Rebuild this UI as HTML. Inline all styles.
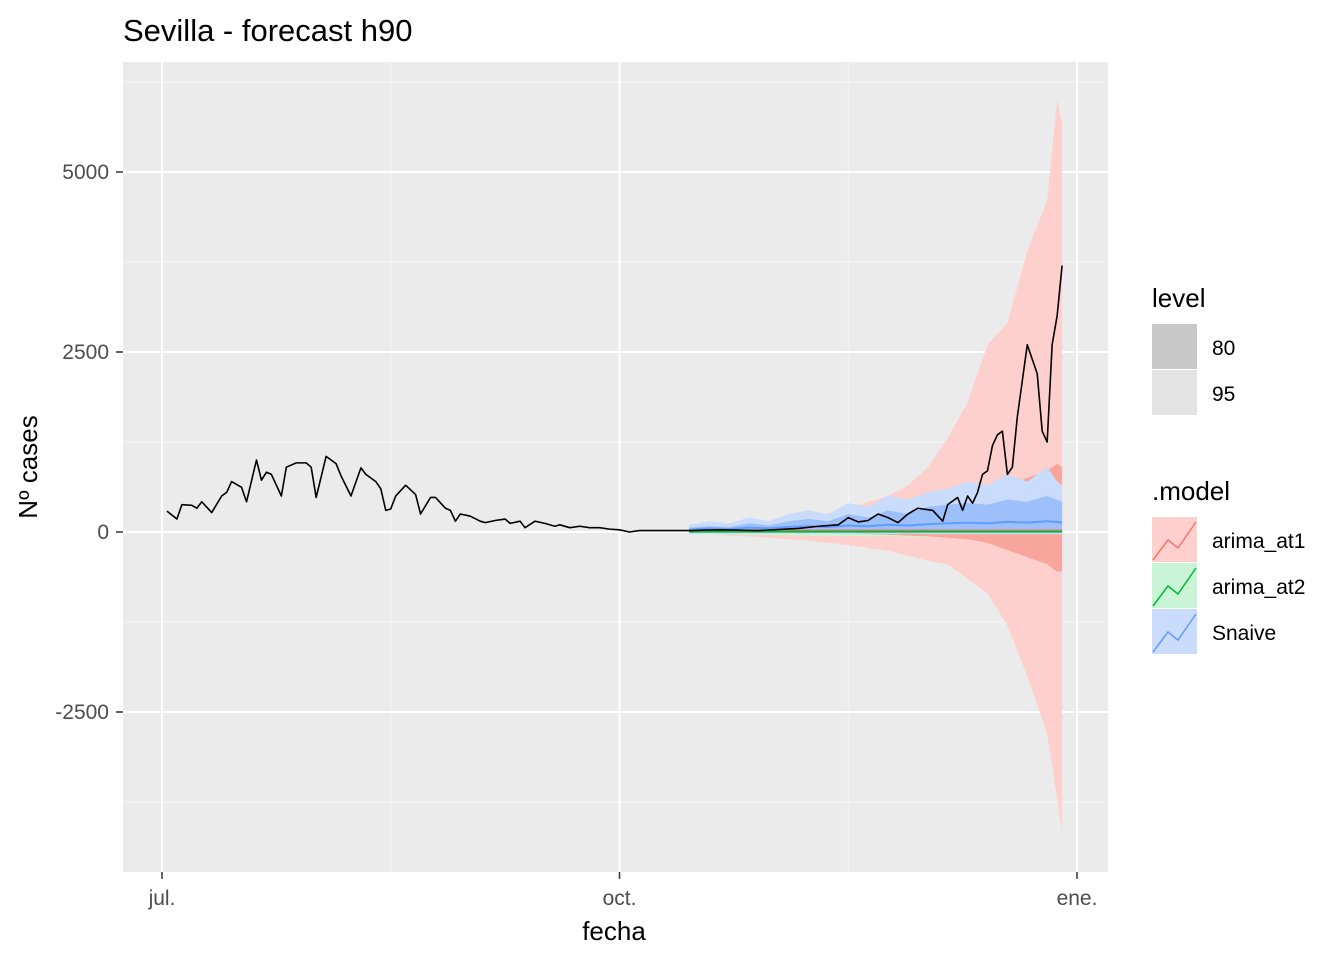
<!DOCTYPE html>
<html><head><meta charset="utf-8"><style>
body{margin:0;background:#fff;font-family:"Liberation Sans",Arial,sans-serif}
svg text{font-family:"Liberation Sans",Arial,sans-serif}
</style></head><body>
<svg id="chart" width="1344" height="960" xmlns="http://www.w3.org/2000/svg">
<text x="123" y="41" font-size="31" fill="#000">Sevilla - forecast h90</text>
<rect x="123" y="62" width="985" height="810" fill="#EBEBEB"/>
<g id="grid"></g>
<g id="marks"></g>
<g id="axes"></g>
<text x="614" y="940" font-size="26" text-anchor="middle">fecha</text>
<text transform="translate(37,467) rotate(-90)" font-size="26" text-anchor="middle">Nº cases</text>
<g>
<text x="1152" y="307" font-size="26">level</text>
<rect x="1152" y="324" width="45" height="45" fill="#C8C8C8"/>
<text x="1212" y="355" font-size="21">80</text>
<rect x="1152" y="370" width="45" height="45" fill="#E3E3E3"/>
<text x="1212" y="401" font-size="21">95</text>
</g>
<g>
<text x="1152" y="500" font-size="26">.model</text>
<rect x="1152" y="517" width="45" height="45" fill="#FDD0CD"/>
<polyline points="1153,560 1168,540 1178,548 1196,522" fill="none" stroke="#F8766D" stroke-width="1.5"/>
<text x="1212" y="548" font-size="21">arima_at1</text>
<rect x="1152" y="563" width="45" height="45" fill="#C9F5D6"/>
<polyline points="1153,606 1168,586 1178,594 1196,568" fill="none" stroke="#00BA38" stroke-width="1.5"/>
<text x="1212" y="594" font-size="21">arima_at2</text>
<rect x="1152" y="609" width="45" height="45" fill="#CADCFB"/>
<polyline points="1153,652 1168,632 1178,640 1196,614" fill="none" stroke="#619CFF" stroke-width="1.5"/>
<text x="1212" y="640" font-size="21">Snaive</text>
</g>
</svg>
<script>
const actDays=[1,3,4,6,7,8,10,12,13,14,16,17,19,20,21,22,24,25,27,29,30,31,33,35,36,38,40,41,43,44,45,46,47,49,51,52,54,55,57,58,59,60,62,64,65,67,69,70,72,73,75,77,79,80,82,84,86,88,90,92,94,96,100,106,112,120,128,132,136,138,140,142,144,146,148,150,152,155,157,158,160,161,162,163,164,165,166,167,168,169,170,171,172,174,175,176,177,178,179,180,181];
const actVals=[290,180,380,370,330,420,270,500,550,700,620,420,1000,720,830,800,500,900,960,960,900,480,1050,950,780,500,890,800,700,600,300,320,500,650,520,250,480,480,330,300,150,250,220,150,130,160,180,120,150,60,150,120,80,100,60,80,60,60,40,30,0,20,20,20,30,20,50,80,100,200,140,160,250,200,130,250,330,300,150,380,480,300,500,400,550,800,850,1200,1350,1400,800,900,1600,2600,2400,2200,1400,1250,2600,3000,3700];
const fcDays=[106,110,114,118,122,126,130,134,138,142,146,150,154,158,162,166,170,174,178,180,181];
const red95Hi=[60,80,100,130,150,180,220,260,320,420,500,650,900,1300,1800,2600,2900,3900,4600,6000,5700];
const red95Lo=[-20,-30,-50,-60,-80,-100,-120,-150,-180,-220,-260,-330,-400,-450,-650,-850,-1300,-2000,-2800,-3700,-4150];
const red80Hi=[30,40,40,50,60,60,70,80,90,110,130,160,200,300,400,500,650,750,850,950,900];
const red80Lo=[0,0,0,-10,-10,-10,-20,-20,-30,-30,-40,-50,-60,-80,-100,-150,-250,-350,-450,-550,-550];
const redMean=[20,20,20,20,20,20,20,20,20,20,20,20,20,20,20,20,20,20,20,20,20];
const grn95Hi=[30,40,40,50,50,60,60,60,70,70,80,80,80,90,90,100,100,100,100,100,100];
const grn95Lo=[-30,-30,-35,-40,-40,-45,-50,-50,-55,-60,-60,-65,-70,-70,-75,-80,-85,-90,-95,-100,-100];
const grnMean=[5,5,5,5,5,5,5,5,5,5,5,5,5,5,5,5,5,5,5,5,5];
const blu95Hi=[100,150,120,200,150,250,300,250,400,350,500,450,550,600,700,650,800,700,900,700,650];
const blu95Lo=[-30,-20,-30,-20,-30,-20,-30,-20,-30,-20,-30,-20,-30,-30,-30,-30,-30,-30,-30,-30,-30];
const blu80Hi=[60,80,70,120,90,150,180,150,250,200,300,250,350,380,400,380,450,420,500,450,420];
const blu80Lo=[0,10,0,10,0,10,0,10,0,10,0,10,0,0,0,0,0,0,0,0,0];
const bluMean=[30,50,40,60,50,70,80,70,90,80,100,90,110,120,130,120,140,130,150,140,130];
const yTicks=[-2500,0,2500,5000];
const yMinor=[-3750,-1250,1250,3750,6250];
const xTickDays=[0,92,184];
const xTickLabels=["jul.","oct.","ene."];
const xMinorDays=[46,138];

const NS="http://www.w3.org/2000/svg";
const X=d=>162+d*(915/184);
const Y=v=>532-v*(180/2500);
function mk(tag,attrs,parent){const e=document.createElementNS(NS,tag);for(const k in attrs)e.setAttribute(k,attrs[k]);parent.appendChild(e);return e;}
const grid=document.getElementById('grid'),marks=document.getElementById('marks'),axes=document.getElementById('axes');
yMinor.forEach(v=>{const l=mk('line',{x1:123,x2:1108,y1:Y(v),y2:Y(v),stroke:'#F5F5F5','stroke-width':1},grid);

});
xMinorDays.forEach(d=>{const l=mk('line',{x1:X(d),x2:X(d),y1:62,y2:872,stroke:'#F5F5F5','stroke-width':1},grid);

});
yTicks.forEach(v=>{const l=mk('line',{x1:123,x2:1108,y1:Y(v),y2:Y(v),stroke:'#fff','stroke-width':2},grid);


mk('line',{x1:116,x2:123,y1:Y(v),y2:Y(v),stroke:'#333','stroke-width':1.5},axes);
const t=mk('text',{x:109,y:Y(v)+7,'font-size':21,'text-anchor':'end',fill:'#4D4D4D'},axes);t.textContent=v;

});
xTickDays.forEach((d,i)=>{const l=mk('line',{x1:X(d),x2:X(d),y1:62,y2:872,stroke:'#fff','stroke-width':2},grid);


mk('line',{x1:X(d),x2:X(d),y1:872,y2:879,stroke:'#333','stroke-width':1.5},axes);
const t=mk('text',{x:X(d),y:905,'font-size':21,'text-anchor':'middle',fill:'#4D4D4D'},axes);t.textContent=xTickLabels[i];

});
function band(hi,lo,fill,name){const pts=fcDays.map((d,i)=>X(d)+','+Y(hi[i])).concat(fcDays.map((d,i)=>X(d)+','+Y(lo[i])).reverse());
const p=mk('polygon',{points:pts.join(' '),fill:fill},marks);

}
function line(days,vals,stroke,w,name){const p=mk('polyline',{points:days.map((d,i)=>X(d)+','+Y(vals[i])).join(' '),fill:'none',stroke:stroke,'stroke-width':w,'stroke-linejoin':'round'},marks);

}
band(red95Hi,red95Lo,'#FDD0CD','arima-at1-band-95');
band(grn95Hi,grn95Lo,'#C9F5D6','arima-at2-band-95');
band(red80Hi,red80Lo,'#F8A59E','arima-at1-band-80');
band(blu95Hi,blu95Lo,'#CADCFB','snaive-band-95');
band(blu80Hi,blu80Lo,'#9DBFFA','snaive-band-80');
line(fcDays,redMean,'#F8766D',2,'arima-at1-mean-line');
line(fcDays,bluMean,'#619CFF',2,'snaive-mean-line');
line(fcDays,grnMean,'#00BA38',2,'arima-at2-mean-line');
line(actDays,actVals,'#000',1.6,'actual-cases-line');
</script>
</body></html>
